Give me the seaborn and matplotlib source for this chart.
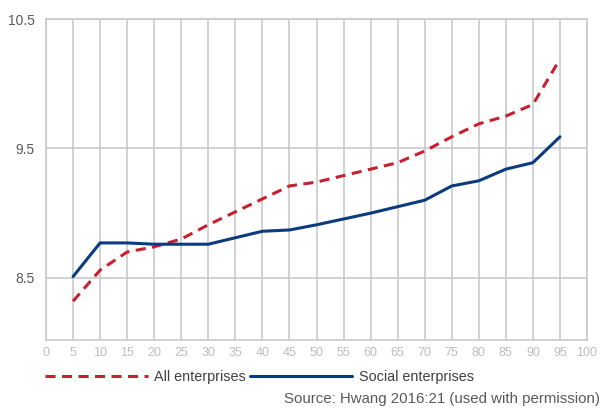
import matplotlib
matplotlib.use("Agg")
import matplotlib.pyplot as plt
import seaborn as sns
import pandas as pd

percentiles = [5, 10, 15, 20, 25, 30, 35, 40, 45, 50, 55, 60, 65, 70, 75, 80, 85, 90, 95]
all_enterprises = [8.32, 8.56, 8.70, 8.74, 8.80, 8.91, 9.01, 9.11, 9.21, 9.24, 9.29, 9.34, 9.39,
                   9.48, 9.59, 9.69, 9.75, 9.84, 10.19]
social_enterprises = [8.51, 8.77, 8.77, 8.76, 8.76, 8.76, 8.81, 8.86, 8.87, 8.91, 8.955, 9.00, 9.05,
                      9.10, 9.21, 9.25, 9.34, 9.39, 9.59]
x_ticks = list(range(0, 101, 5))
y_ticks = [8.5, 9.5, 10.5]

df = pd.DataFrame({"pct": percentiles, "All enterprises": all_enterprises,
                   "Social enterprises": social_enterprises})

sns.set_theme(style="whitegrid")
plt.rcParams["font.family"] = ["Liberation Sans", "DejaVu Sans"]

fig = plt.figure(figsize=(6.03, 4.08), dpi=100)
ax = fig.add_axes([0.0763, 0.1667, 0.8972, 0.7867])

red = "#c8202f"
blue = "#0b3a7e"
grid_c = "#c9c9cc"

sns.lineplot(data=df, x="pct", y="All enterprises", ax=ax, color=red, linewidth=2.2,
             linestyle=(0, (3.3, 2.1)), label="All enterprises")
sns.lineplot(data=df, x="pct", y="Social enterprises", ax=ax, color=blue, linewidth=2.2,
             label="Social enterprises")

ax.set_xlim(0, 100)
ax.set_ylim(8.02, 10.5)
ax.set_xticks(x_ticks)
ax.set_yticks(y_ticks)
ax.set_yticklabels(["8.5", "9.5", "10.5"])
ax.set_xlabel("")
ax.set_ylabel("")
ax.grid(True, color=grid_c, linewidth=1.2)
for s in ax.spines.values():
    s.set_color(grid_c)
    s.set_linewidth(1.2)
ax.tick_params(axis="x", labelsize=9, colors="#bdbdbd", length=0, pad=5)
ax.tick_params(axis="y", labelsize=10, colors="#595959", length=0, pad=8)

leg = ax.legend(loc="upper left", bbox_to_anchor=(-0.012, -0.075), ncol=2, frameon=False,
                fontsize=10.4, handlelength=7.1, handletextpad=0.45, columnspacing=0.25,
                borderaxespad=0)
for t in leg.get_texts():
    t.set_color("#404040")

fig.text(0.995, 0.004, "Source: Hwang 2016:21 (used with permission)", ha="right", va="bottom",
         fontsize=10.8, color="#595959")

fig.savefig("out.png", dpi=100)
